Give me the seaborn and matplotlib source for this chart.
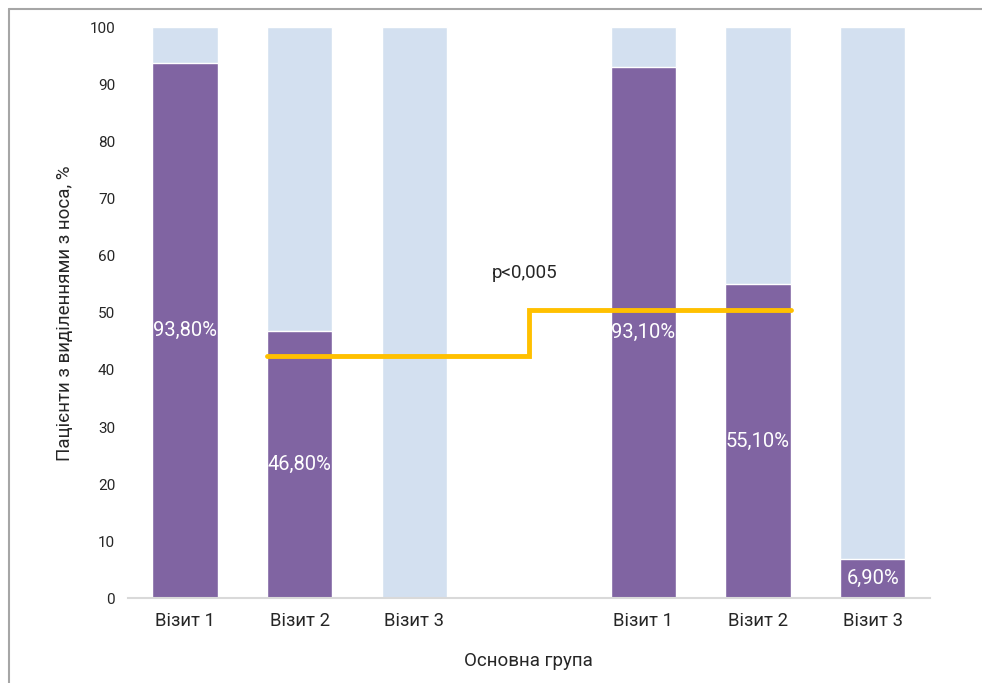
import pandas as pd
import matplotlib.pyplot as plt
import seaborn as sns
from matplotlib.lines import Line2D

# Дані
positions = ['g1_v1', 'g1_v2', 'g1_v3', 'gap', 'g2_v1', 'g2_v2', 'g2_v3']
tick_labels = ['Візит 1', 'Візит 2', 'Візит 3', '', 'Візит 1', 'Візит 2', 'Візит 3']
with_discharge = [93.8, 46.8, 0.0, None, 93.1, 55.1, 6.9]
value_labels = ['93,80%', '46,80%', '', '', '93,10%', '55,10%', '6,90%']
total = [100, 100, 100, None, 100, 100, 100]

# Лінія p-значення
p_line_x = [0.715, 3, 3, 5.285]
p_line_y = [42.4, 42.4, 50.5, 50.5]
p_text = 'p<0,005'

purple = '#8064A2'
light_blue = '#D3E0F0'
yellow = '#FFC000'

sns.set_style('white')
plt.rcParams['font.family'] = ['Roboto', 'DejaVu Sans']

df = pd.DataFrame({'pos': positions, 'total': total, 'val': with_discharge})

fig = plt.figure(figsize=(9.82, 6.83), dpi=100)
ax = fig.add_axes([0.130, 0.124, 0.817, 0.836])

sns.barplot(data=df, x='pos', y='total', order=positions, color=light_blue,
            width=0.57, saturation=1, ax=ax)
sns.barplot(data=df, x='pos', y='val', order=positions, color=purple,
            width=0.57, saturation=1, ax=ax)

for i, (v, lab) in enumerate(zip(with_discharge, value_labels)):
    if lab:
        ax.text(i, v / 2, lab, color='white', ha='center', va='center', fontsize=14.5)

ax.plot(p_line_x, p_line_y, color=yellow, linewidth=3.5, solid_joinstyle='miter')
ax.text(2.68, 57.0, p_text, ha='left', va='center', fontsize=13.5)

ax.set_ylim(0, 100)
ax.set_xlim(-0.5, 6.5)
ax.set_yticks(range(0, 101, 10))
ax.set_xticks(range(len(tick_labels)))
ax.set_xticklabels(tick_labels, fontsize=13.3)
ax.tick_params(axis='y', labelsize=11, length=0, pad=9)
ax.tick_params(axis='x', length=0, pad=10)
ax.set_xlabel('Основна група', fontsize=13.5, labelpad=16)
ax.set_ylabel('Пацієнти з виділеннями з носа, %', fontsize=13.5, labelpad=11)

for s in ['left', 'right', 'top']:
    ax.spines[s].set_visible(False)
ax.spines['bottom'].set_color('#D9D9D9')
ax.spines['bottom'].set_linewidth(1.5)

fig.add_artist(Line2D([0.009, 0.009], [0, 0.987], color='#A6A6A6', linewidth=1.5))
fig.add_artist(Line2D([0.009, 1], [0.987, 0.987], color='#A6A6A6', linewidth=1.5))

fig.savefig('out.png', dpi=100)
